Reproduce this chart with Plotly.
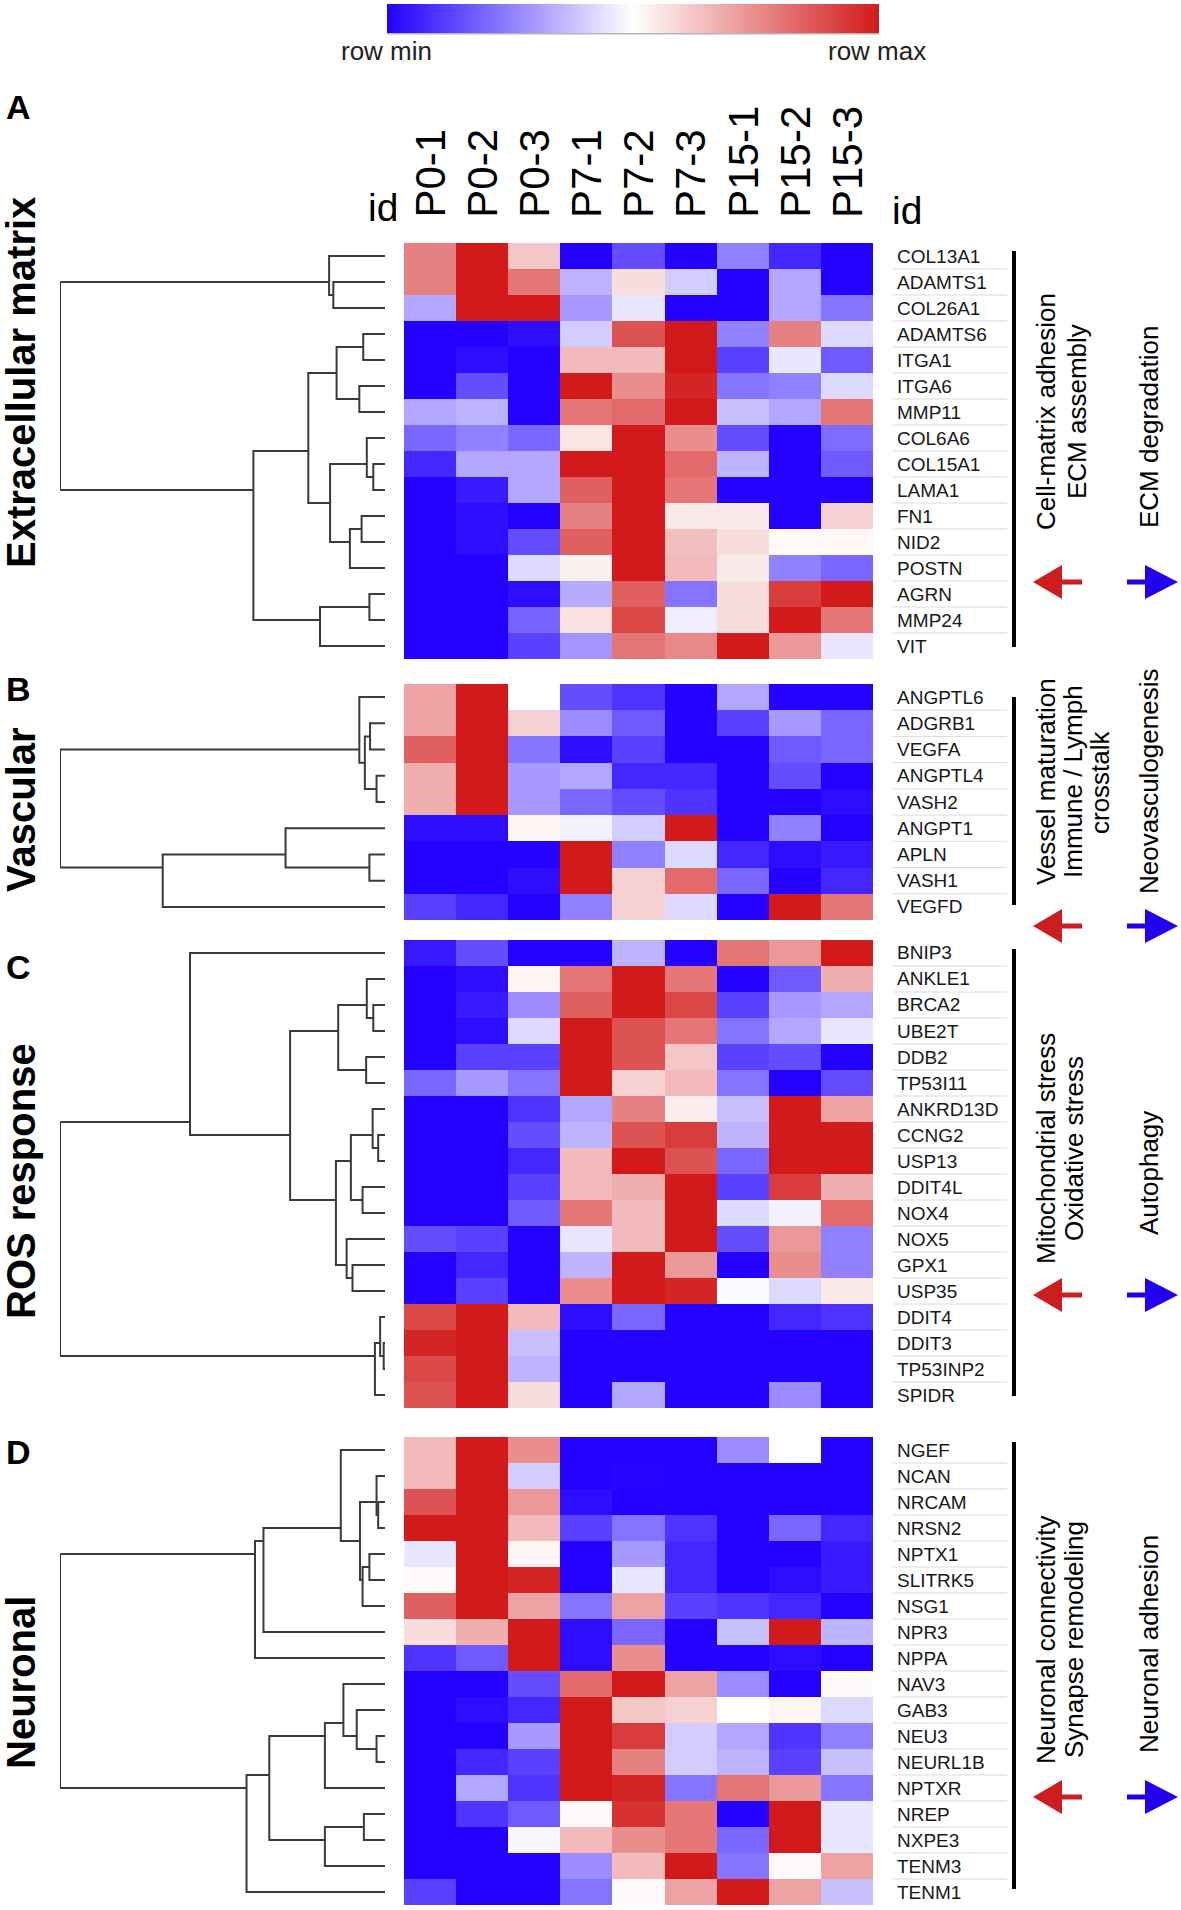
import plotly.graph_objects as go

W, H = 1181, 1910

# ---------------- data ----------------
columns = ["P0-1", "P0-2", "P0-3", "P7-1", "P7-2", "P7-3", "P15-1", "P15-2", "P15-3"]

genes_A = ["COL13A1", "ADAMTS1", "COL26A1", "ADAMTS6", "ITGA1", "ITGA6", "MMP11", "COL6A6",
           "COL15A1", "LAMA1", "FN1", "NID2", "POSTN", "AGRN", "MMP24", "VIT"]
vals_A = [
    [0.55, 1.0, 0.25, -1.0, -0.7, -1.0, -0.5, -0.85, -1.0],
    [0.55, 1.0, 0.6, -0.3, 0.15, -0.2, -1.0, -0.35, -1.0],
    [-0.35, 1.0, 1.0, -0.4, -0.1, -1.0, -1.0, -0.35, -0.55],
    [-1.0, -1.0, -0.95, -0.2, 0.75, 1.0, -0.5, 0.55, -0.15],
    [-1.0, -0.95, -1.0, 0.3, 0.3, 1.0, -0.75, -0.1, -0.65],
    [-1.0, -0.7, -1.0, 1.0, 0.5, 0.95, -0.55, -0.5, -0.15],
    [-0.35, -0.3, -1.0, 0.6, 0.65, 1.0, -0.25, -0.35, 0.6],
    [-0.6, -0.5, -0.6, 0.12, 1.0, 0.5, -0.7, -1.0, -0.58],
    [-0.85, -0.35, -0.35, 1.0, 1.0, 0.65, -0.3, -1.0, -0.65],
    [-1.0, -0.9, -0.35, 0.7, 1.0, 0.6, -1.0, -1.0, -1.0],
    [-1.0, -0.95, -1.0, 0.55, 1.0, 0.1, 0.1, -1.0, 0.2],
    [-1.0, -0.95, -0.7, 0.7, 1.0, 0.28, 0.15, 0.02, 0.03],
    [-1.0, -1.0, -0.15, 0.06, 1.0, 0.3, 0.1, -0.5, -0.6],
    [-1.0, -1.0, -0.95, -0.33, 0.7, -0.55, 0.15, 0.85, 1.0],
    [-1.0, -1.0, -0.62, 0.13, 0.8, -0.07, 0.15, 1.0, 0.6],
    [-1.0, -1.0, -0.75, -0.42, 0.6, 0.52, 1.0, 0.45, -0.1],
]
link_A = [(1, 2, 0.159), (0, 16, 0.172), (3, 4, 0.067), (5, 6, 0.079), (18, 19, 0.149),
          (8, 9, 0.036), (7, 21, 0.056), (10, 11, 0.072), (23, 12, 0.108), (22, 24, 0.169),
          (20, 25, 0.236), (13, 14, 0.048), (27, 15, 0.200), (26, 28, 0.405), (17, 29, 1.0)]

genes_B = ["ANGPTL6", "ADGRB1", "VEGFA", "ANGPTL4", "VASH2", "ANGPT1", "APLN", "VASH1", "VEGFD"]
vals_B = [
    [0.4, 1.0, 0.0, -0.7, -0.8, -1.0, -0.35, -1.0, -1.0],
    [0.4, 1.0, 0.2, -0.45, -0.65, -1.0, -0.75, -0.4, -0.6],
    [0.7, 1.0, -0.55, -0.95, -0.75, -1.0, -1.0, -0.65, -0.6],
    [0.35, 1.0, -0.4, -0.35, -0.85, -0.85, -1.0, -0.7, -1.0],
    [0.35, 1.0, -0.4, -0.6, -0.7, -0.8, -1.0, -1.0, -0.95],
    [-0.95, -0.95, 0.05, -0.05, -0.2, 1.0, -1.0, -0.5, -1.0],
    [-1.0, -1.0, -1.0, 1.0, -0.5, -0.15, -0.85, -0.95, -0.9],
    [-1.0, -1.0, -0.95, 1.0, 0.2, 0.65, -0.6, -1.0, -0.85],
    [-0.75, -0.85, -1.0, -0.5, 0.2, -0.15, -1.0, 1.0, 0.6],
]
link_B = [(1, 2, 0.046), (3, 4, 0.026), (9, 10, 0.062), (0, 11, 0.079), (6, 7, 0.048),
          (5, 13, 0.306), (14, 8, 0.684), (12, 15, 1.0)]

genes_C = ["BNIP3", "ANKLE1", "BRCA2", "UBE2T", "DDB2", "TP53I11", "ANKRD13D", "CCNG2", "USP13",
           "DDIT4L", "NOX4", "NOX5", "GPX1", "USP35", "DDIT4", "DDIT3", "TP53INP2", "SPIDR"]
vals_C = [
    [-0.9, -0.7, -1.0, -1.0, -0.3, -1.0, 0.6, 0.45, 1.0],
    [-1.0, -0.95, 0.05, 0.6, 1.0, 0.6, -1.0, -0.65, 0.35],
    [-1.0, -0.9, -0.45, 0.7, 1.0, 0.8, -0.75, -0.4, -0.35],
    [-1.0, -0.95, -0.15, 1.0, 0.75, 0.6, -0.55, -0.35, -0.1],
    [-1.0, -0.75, -0.75, 1.0, 0.75, 0.25, -0.75, -0.7, -1.0],
    [-0.6, -0.4, -0.55, 1.0, 0.2, 0.3, -0.55, -1.0, -0.7],
    [-1.0, -1.0, -0.8, -0.35, 0.55, 0.08, -0.25, 1.0, 0.4],
    [-1.0, -1.0, -0.7, -0.3, 0.75, 0.85, -0.3, 1.0, 1.0],
    [-1.0, -1.0, -0.85, 0.3, 1.0, 0.75, -0.6, 1.0, 1.0],
    [-1.0, -1.0, -0.75, 0.3, 0.35, 1.0, -0.75, 0.85, 0.35],
    [-1.0, -1.0, -0.65, 0.6, 0.3, 1.0, -0.15, -0.05, 0.65],
    [-0.7, -0.75, -1.0, -0.1, 0.3, 1.0, -0.7, 0.45, -0.5],
    [-1.0, -0.85, -1.0, -0.3, 1.0, 0.45, -1.0, 0.5, -0.5],
    [-1.0, -0.75, -1.0, 0.5, 1.0, 0.95, -0.02, -0.15, 0.1],
    [0.8, 1.0, 0.3, -0.95, -0.6, -1.0, -1.0, -0.85, -0.8],
    [0.95, 1.0, -0.25, -1.0, -1.0, -1.0, -1.0, -1.0, -1.0],
    [0.8, 1.0, -0.3, -1.0, -1.0, -1.0, -1.0, -1.0, -1.0],
    [0.75, 1.0, 0.15, -1.0, -0.35, -1.0, -1.0, -0.45, -1.0],
]
link_C = [(2, 3, 0.036), (1, 18, 0.056), (4, 5, 0.058), (19, 20, 0.144), (7, 8, 0.021),
          (6, 22, 0.038), (9, 10, 0.069), (23, 24, 0.105), (12, 13, 0.100), (11, 26, 0.118),
          (25, 27, 0.151), (21, 28, 0.292), (0, 29, 0.600), (15, 16, 0.004), (14, 31, 0.015),
          (32, 17, 0.031), (30, 33, 1.0)]

genes_D = ["NGEF", "NCAN", "NRCAM", "NRSN2", "NPTX1", "SLITRK5", "NSG1", "NPR3", "NPPA",
           "NAV3", "GAB3", "NEU3", "NEURL1B", "NPTXR", "NREP", "NXPE3", "TENM3", "TENM1"]
vals_D = [
    [0.3, 1.0, 0.5, -1.0, -1.0, -1.0, -0.45, 0.0, -1.0],
    [0.3, 1.0, -0.2, -1.0, -0.98, -1.0, -1.0, -1.0, -1.0],
    [0.75, 1.0, 0.45, -0.95, -1.0, -1.0, -1.0, -1.0, -1.0],
    [1.0, 1.0, 0.3, -0.75, -0.55, -0.8, -1.0, -0.6, -0.85],
    [-0.1, 1.0, 0.05, -1.0, -0.4, -0.85, -1.0, -1.0, -0.9],
    [0.03, 1.0, 0.95, -1.0, -0.1, -0.85, -1.0, -0.95, -0.9],
    [0.7, 1.0, 0.4, -0.55, 0.4, -0.75, -0.8, -0.85, -1.0],
    [0.15, 0.35, 1.0, -0.95, -0.6, -1.0, -0.25, 1.0, -0.3],
    [-0.8, -0.65, 1.0, -0.95, 0.5, -1.0, -1.0, -0.95, -1.0],
    [-1.0, -1.0, -0.7, 0.65, 1.0, 0.4, -0.45, -1.0, 0.02],
    [-1.0, -0.95, -0.85, 1.0, 0.25, 0.2, 0.0, 0.05, -0.15],
    [-1.0, -1.0, -0.4, 1.0, 0.85, -0.2, -0.35, -0.8, -0.5],
    [-1.0, -0.85, -0.75, 1.0, 0.55, -0.2, -0.3, -0.75, -0.25],
    [-1.0, -0.35, -0.8, 1.0, 0.95, -0.55, 0.6, 0.45, -0.55],
    [-1.0, -0.8, -0.65, 0.02, 0.9, 0.6, -1.0, 1.0, -0.1],
    [-1.0, -1.0, -0.03, 0.3, 0.5, 0.6, -0.6, 1.0, -0.1],
    [-1.0, -1.0, -1.0, -0.45, 0.3, 1.0, -0.55, 0.02, 0.4],
    [-0.75, -1.0, -1.0, -0.55, 0.02, 0.4, 1.0, 0.4, -0.25],
]
link_D = [(2, 3, 0.021), (1, 18, 0.026), (4, 5, 0.048), (20, 6, 0.069), (19, 21, 0.077),
          (0, 22, 0.136), (23, 7, 0.374), (24, 8, 0.400), (11, 12, 0.026), (10, 26, 0.087),
          (9, 27, 0.128), (28, 13, 0.185), (14, 15, 0.065), (30, 16, 0.185), (29, 31, 0.356),
          (32, 17, 0.426), (25, 33, 1.0)]

group_names = ["Extracellular matrix", "Vascular", "ROS response", "Neuronal"]
panel_letters = ["A", "B", "C", "D"]
up_terms = [["Cell-matrix adhesion", "ECM assembly"],
            ["Vessel maturation", "Immune / Lymph", "crosstalk"],
            ["Mitochondrial stress", "Oxidative stress"],
            ["Neuronal connectivity", "Synapse remodeling"]]
down_terms = ["ECM degradation", "Neovasculogenesis", "Autophagy", "Neuronal adhesion"]

# ---------------- layout geometry (pixels) ----------------
FONT = "Liberation Sans, Arial, Helvetica, sans-serif"
HM_X0, HM_X1 = 404, 873
DG_X0, DG_X1 = 60, 385
panels = [
    dict(genes=genes_A, vals=vals_A, link=link_A, top=243, bottom=659, group_y=383, letter_y=107,
         bar=(251, 647), arrow_y=582, up_x=[1046, 1077], up_y=412, down_y=427),
    dict(genes=genes_B, vals=vals_B, link=link_B, top=684, bottom=920, group_y=810, letter_y=689,
         bar=(697, 905), arrow_y=926, up_x=[1046, 1073, 1100], up_y=782, down_y=782),
    dict(genes=genes_C, vals=vals_C, link=link_C, top=940, bottom=1408, group_y=1181, letter_y=967,
         bar=(949, 1396), arrow_y=1295, up_x=[1046, 1074], up_y=1149, down_y=1173),
    dict(genes=genes_D, vals=vals_D, link=link_D, top=1437, bottom=1905, group_y=1683, letter_y=1452,
         bar=(1442, 1889), arrow_y=1797, up_x=[1046, 1074], up_y=1640, down_y=1644),
]


def fx(x):
    return x / W


def fy(y):
    return 1 - y / H


colorscale = [[0.0, "#2300ff"], [0.5, "#ffffff"], [1.0, "#d21a1a"]]


def dendro_xy(link, n):
    pos = {i: (float(i), 0.0, 1) for i in range(n)}
    xs, ys = [], []
    for k, (a, b, h) in enumerate(link):
        ya, ha, ca = pos[a]
        yb, hb, cb = pos[b]
        xs += [ha, h, h, hb, None]
        ys += [ya, ya, yb, yb, None]
        pos[n + k] = ((ya * ca + yb * cb) / (ca + cb), h, ca + cb)
    return xs, ys


def arrow_path(tip, tail, yc, head_len, hh, sh):
    d = 1 if tail > tip else -1
    base = tip + d * head_len
    pts = [(tip, yc), (base, yc - hh), (base, yc - sh), (tail, yc - sh), (tail, yc + sh),
           (base, yc + sh), (base, yc + hh)]
    return "M " + " L ".join(f"{fx(a):.5f},{fy(b):.5f}" for a, b in pts) + " Z"


fig = go.Figure()
annotations = []
shapes = []
layout_axes = {}

for i, p in enumerate(panels):
    n = len(p["genes"])
    hnum, dnum = 2 * i + 1, 2 * i + 2
    hs = "" if hnum == 1 else str(hnum)
    ds = str(dnum)
    ydom = [fy(p["bottom"]), fy(p["top"])]

    hm = go.Heatmap(
        z=p["vals"], x=list(range(len(columns))), y=list(range(n)),
        zmin=-1, zmax=1, colorscale=colorscale,
        xaxis="x" + hs, yaxis="y" + hs, hoverinfo="skip",
        showscale=(i == 0),
    )
    if i == 0:
        hm.colorbar = dict(orientation="h", x=fx(633), xanchor="center", y=fy(4), yanchor="top",
                           len=492 / W, lenmode="fraction", thickness=29, thicknessmode="pixels",
                           showticklabels=False, ticks="", outlinewidth=0, xpad=0, ypad=0)
    fig.add_trace(hm)

    xs, ys = dendro_xy(p["link"], n)
    fig.add_trace(go.Scatter(x=xs, y=ys, mode="lines", line=dict(color="#3a3a3a", width=2),
                             xaxis="x" + ds, yaxis="y" + ds, hoverinfo="skip", cliponaxis=False,
                             showlegend=False))

    common = dict(showgrid=False, zeroline=False, showticklabels=False, ticks="", showline=False,
                  fixedrange=True)
    layout_axes["xaxis" + hs] = dict(domain=[fx(HM_X0), fx(HM_X1)], range=[-0.5, len(columns) - 0.5],
                                     anchor="y" + hs, **common)
    layout_axes["yaxis" + hs] = dict(domain=ydom, range=[n - 0.5, -0.5], anchor="x" + hs, **common)
    layout_axes["xaxis" + ds] = dict(domain=[fx(DG_X0), fx(DG_X1)], range=[1.0, 0.0],
                                     anchor="y" + ds, **common)
    layout_axes["yaxis" + ds] = dict(domain=ydom, range=[n - 0.5, -0.5], anchor="x" + ds, **common)

    # row labels and separators
    for r, g in enumerate(p["genes"]):
        annotations.append(dict(text=g, x=fx(895), xref="paper", xanchor="left", y=r, yref="y" + hs,
                                yanchor="middle", showarrow=False,
                                font=dict(family=FONT, size=19, color="#181818")))
        if r < n - 1:
            shapes.append(dict(type="line", xref="paper", x0=fx(893), x1=fx(1007),
                               yref="y" + hs, y0=r + 0.5, y1=r + 0.5,
                               line=dict(color="#dcdcdc", width=1)))

    # group name and panel letter
    annotations.append(dict(text=group_names[i], x=fx(21), y=fy(p["group_y"]), xref="paper", yref="paper",
                            xanchor="center", yanchor="middle", textangle=-90, showarrow=False,
                            font=dict(family=FONT, size=40, color="black", weight="bold")))
    annotations.append(dict(text=panel_letters[i], x=fx(18), y=fy(p["letter_y"]), xref="paper",
                            yref="paper", xanchor="center", yanchor="middle", showarrow=False,
                            font=dict(family=FONT, size=34, color="black", weight="bold")))

    # black bracket bar
    shapes.append(dict(type="line", xref="paper", yref="paper", x0=fx(1014), x1=fx(1014),
                       y0=fy(p["bar"][0]), y1=fy(p["bar"][1]), line=dict(color="black", width=4)))

    # up / down functional terms
    for t, xx in zip(up_terms[i], p["up_x"]):
        annotations.append(dict(text=t, x=fx(xx), y=fy(p["up_y"]), xref="paper", yref="paper",
                                xanchor="center", yanchor="middle", textangle=-90, showarrow=False,
                                font=dict(family=FONT, size=26, color="black")))
    annotations.append(dict(text=down_terms[i], x=fx(1149), y=fy(p["down_y"]), xref="paper",
                            yref="paper", xanchor="center", yanchor="middle", textangle=-90,
                            showarrow=False, font=dict(family=FONT, size=26, color="black")))

    ay = p["arrow_y"]
    shapes.append(dict(type="path", xref="paper", yref="paper",
                       path=arrow_path(1033, 1082, ay, 29, 17, 2.5),
                       fillcolor="#cc1e1e", line=dict(width=0)))
    shapes.append(dict(type="path", xref="paper", yref="paper",
                       path=arrow_path(1178, 1127, ay, 33, 17, 2.5),
                       fillcolor="#2200ee", line=dict(width=0)))

# column headers (panel A)
for c, name in enumerate(columns):
    annotations.append(dict(text=name, x=c, xref="x", y=fy(220), yref="paper", xanchor="center",
                            yanchor="bottom", textangle=-90, showarrow=False,
                            font=dict(family=FONT, size=42, color="black")))
annotations.append(dict(text="id", x=fx(383), y=fy(208), xref="paper", yref="paper", xanchor="center",
                        yanchor="middle", showarrow=False, font=dict(family=FONT, size=39, color="black")))
annotations.append(dict(text="id", x=fx(907), y=fy(211), xref="paper", yref="paper", xanchor="center",
                        yanchor="middle", showarrow=False, font=dict(family=FONT, size=39, color="black")))

# colour key labels
annotations.append(dict(text="row min", x=fx(386), y=fy(51), xref="paper", yref="paper",
                        xanchor="center", yanchor="middle", showarrow=False,
                        font=dict(family=FONT, size=26, color="#222")))
annotations.append(dict(text="row max", x=fx(877), y=fy(51), xref="paper", yref="paper",
                        xanchor="center", yanchor="middle", showarrow=False,
                        font=dict(family=FONT, size=26, color="#222")))
shapes.append(dict(type="line", xref="paper", yref="paper", x0=fx(387), x1=fx(879), y0=fy(33.5),
                   y1=fy(33.5), line=dict(color="#b5b5b5", width=2)))

fig.update_layout(
    width=W, height=H, margin=dict(l=0, r=0, t=0, b=0),
    paper_bgcolor="white", plot_bgcolor="white", showlegend=False,
    annotations=annotations, shapes=shapes, font=dict(family=FONT),
    **layout_axes,
)

fig.write_html("out.html", config={"displayModeBar": False},
               post_script="document.body.style.margin='0';document.body.style.overflow='hidden';")
